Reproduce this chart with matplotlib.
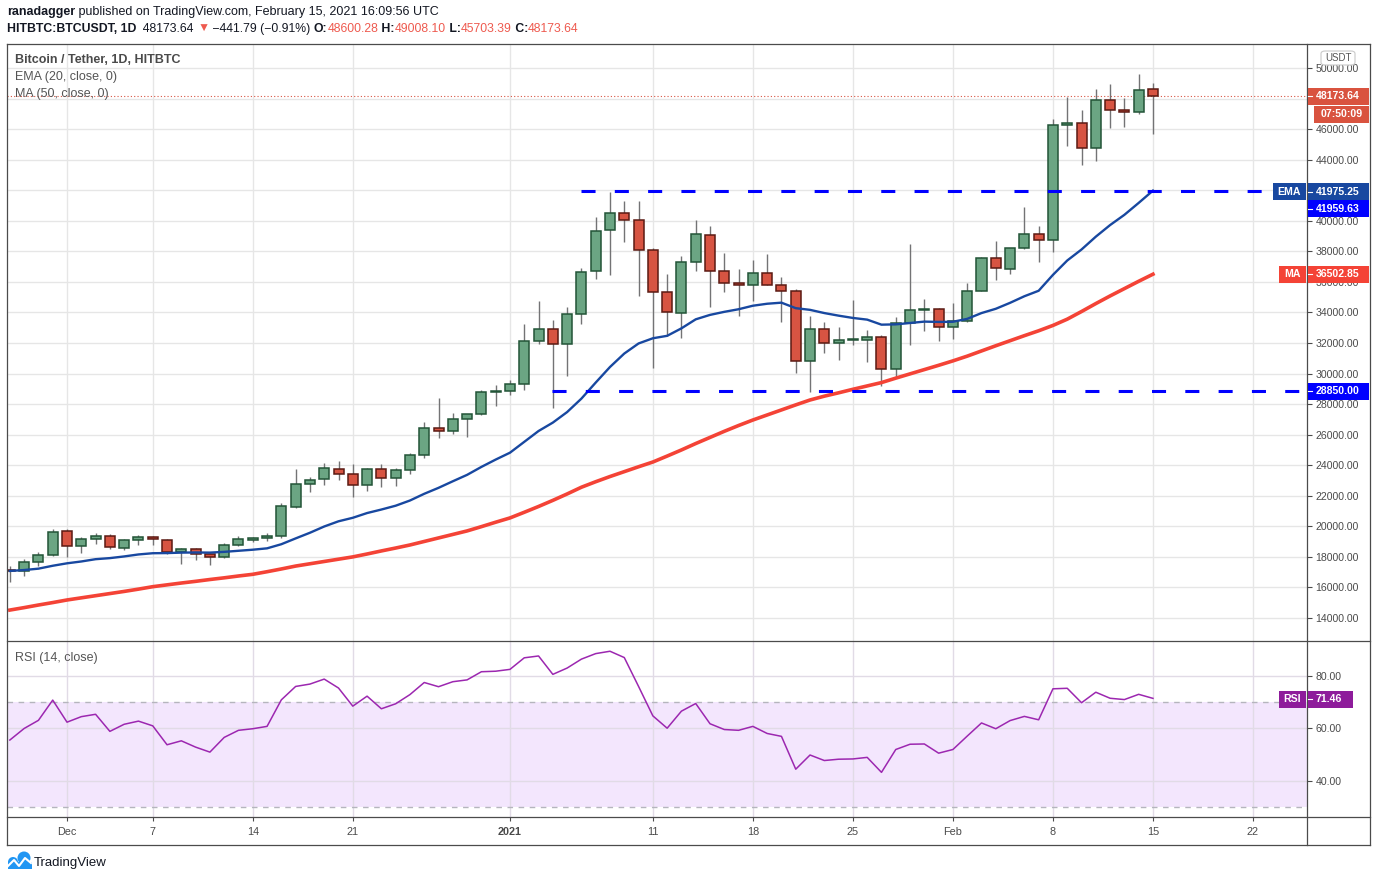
import matplotlib
matplotlib.use("Agg")
import matplotlib.pyplot as plt
import numpy as np
from matplotlib.patches import Rectangle, FancyBboxPatch, Circle
from matplotlib.lines import Line2D
from matplotlib.transforms import IdentityTransform

plt.rcParams["font.family"] = ["Liberation Sans", "DejaVu Sans"]

# daily candles, Nov 27 2020 .. Feb 15 2021
open_ = [17160, 17100, 17650, 18100, 19680, 18700, 19150, 19350, 18580, 19090,
         19290, 19090, 18300, 18500, 18170, 17980, 18760, 19090, 19220, 19350,
         21250, 22760, 23080, 23740, 23410, 22690, 23740, 23150, 23670, 24650,
         26420, 26230, 27010, 27340, 28790, 28850, 29300, 32120, 32910, 31930,
         33890, 36710, 39380, 40500, 40040, 38080, 35330, 33960, 37300, 39080,
         36710, 35920, 35790, 36580, 35790, 35400, 30810, 32910, 31990, 32190,
         32190, 32390, 30290, 33310, 34180, 34220, 33040, 33430, 35400, 37570,
         36840, 38210, 39140, 38740, 46270, 46400, 44760, 47900, 47250, 47120,
         48600.28]
high = [17400, 17860, 18300, 19830, 19830, 19290, 19550, 19480, 19170, 19420,
        19350, 19190, 18600, 18600, 18250, 18890, 19350, 19280, 19550, 21530,
        23740, 23230, 24150, 24280, 24090, 23800, 24090, 23800, 24780, 26820,
        28400, 27410, 27360, 28920, 29240, 29570, 33230, 34740, 33500, 34350,
        36900, 40240, 41880, 41290, 41290, 38210, 36510, 37690, 40040, 39660,
        37880, 36840, 37430, 37820, 36310, 35530, 33760, 33360, 33040, 34810,
        32840, 32530, 33690, 38480, 34870, 34260, 34610, 35920, 37620, 38670,
        38240, 40900, 39660, 46660, 48100, 47250, 48640, 48970, 48030, 49610,
        49008.10]
low = [16380, 16770, 17420, 18050, 18010, 18280, 18830, 18500, 18430, 18800,
       18800, 18170, 17560, 17820, 17490, 17950, 18700, 18960, 19050, 19220,
       21180, 22270, 22690, 23020, 21900, 22300, 22560, 22630, 23410, 24460,
       25770, 26030, 25830, 27300, 27860, 28580, 28920, 31930, 27730, 29830,
       33230, 36220, 36440, 38600, 35070, 30360, 32470, 32320, 36710, 34350,
       35330, 33760, 34740, 35790, 33360, 30020, 28790, 31340, 30880, 31860,
       30750, 29180, 29760, 31860, 32790, 32120, 32250, 33360, 35380, 36130,
       36510, 38150, 37300, 37950, 44890, 43640, 43900, 46050, 46110, 47000,
       45703.39]
close = [17100, 17650, 18100, 19610, 18700, 19150, 19350, 18630, 19110, 19280,
         19150, 18300, 18500, 18170, 17980, 18760, 19150, 19220, 19350, 21320,
         22760, 23020, 23800, 23410, 22690, 23740, 23150, 23670, 24650, 26420,
         26230, 27010, 27340, 28790, 28880, 29300, 32120, 32910, 31930, 33900,
         36640, 39340, 40500, 40040, 38080, 35330, 34020, 37300, 39140, 36710,
         35920, 35790, 36580, 35790, 35400, 30810, 32910, 31990, 32190, 32250,
         32390, 30290, 33310, 34150, 34240, 33040, 33430, 35400, 37570, 36920,
         38210, 39140, 38740, 46270, 46400, 44760, 47900, 47250, 47120, 48570,
         48173.64]

ema20 = [17080, 17140, 17230, 17420, 17580, 17700, 17850, 17920, 18030, 18160,
         18240, 18250, 18280, 18290, 18280, 18330, 18400, 18470, 18560, 18830,
         19210, 19580, 19990, 20330, 20560, 20870, 21100, 21350, 21690, 22130,
         22520, 22950, 23370, 23890, 24370, 24820, 25530, 26240, 26790, 27480,
         28360, 29410, 30430, 31310, 31970, 32310, 32470, 32960, 33550, 33840,
         34040, 34210, 34440, 34570, 34640, 34280, 34170, 33960, 33790, 33640,
         33530, 33200, 33220, 33310, 33400, 33380, 33390, 33580, 33960, 34240,
         34630, 35060, 35420, 36460, 37400, 38120, 38960, 39720, 40390, 41170,
         41975.25]
ma50 = [14520, 14680, 14850, 15010, 15180, 15320, 15460, 15600, 15740, 15890,
        16050, 16170, 16290, 16400, 16520, 16630, 16750, 16860, 17030, 17210,
        17400, 17550, 17700, 17850, 18000, 18190, 18390, 18580, 18780, 19010,
        19240, 19470, 19700, 19980, 20270, 20550, 20920, 21300, 21700, 22120,
        22560, 22920, 23260, 23580, 23900, 24210, 24600, 25000, 25420, 25820,
        26220, 26600, 26960, 27290, 27620, 27950, 28270, 28520, 28740, 28970,
        29190, 29410, 29700, 29980, 30260, 30540, 30830, 31140, 31480, 31820,
        32150, 32480, 32800, 33150, 33560, 34060, 34580, 35080, 35560, 36040,
        36502.85]
rsi14 = [55.6, 60.0, 63.1, 70.8, 62.4, 64.5, 65.4, 58.9, 61.6, 62.8,
         61.0, 53.8, 55.3, 52.9, 51.0, 56.6, 59.3, 59.9, 60.8, 70.9,
         76.0, 76.9, 78.8, 75.4, 68.5, 72.3, 67.5, 69.4, 72.9, 77.5,
         75.9, 77.8, 78.5, 81.6, 81.8, 82.5, 86.9, 87.6, 80.6, 83.0,
         86.4, 88.5, 89.4, 87.0, 76.0, 64.8, 60.1, 66.6, 69.5, 61.8,
         59.6, 59.3, 60.8, 58.1, 57.0, 44.5, 49.9, 47.8, 48.3, 48.4,
         49.0, 43.3, 52.0, 54.0, 54.1, 50.6, 52.0, 57.1, 62.1, 59.9,
         63.0, 64.6, 63.3, 75.1, 75.3, 69.8, 73.8, 71.5, 71.0, 73.0,
         71.46]

support = 28850.00
resistance = 41959.63
last_price = 48173.64

tick_pos = [4, 10, 17, 24, 35, 45, 52, 59, 66, 73, 80, 87]
tick_lab = ["Dec", "7", "14", "21", "2021", "11", "18", "25", "Feb", "8", "15", "22"]

W, H = 1376, 881
fig = plt.figure(figsize=(W / 100, H / 100), dpi=100)


def fx(px):
    return px / W


def fy(py):
    return 1 - py / H


ax = fig.add_axes([fx(7), fy(641), fx(1300), 597 / H])
rax = fig.add_axes([fx(7), fy(817), fx(1300), 176 / H], sharex=ax)

o = np.array(open_)
c = np.array(close)
x = np.arange(len(c))
up = c >= o
body_fc = np.where(up, "#6ba583", "#d75442")
body_ec = np.where(up, "#225437", "#5b1a13")

ax.vlines(x, low, high, color="#737375", lw=1, zorder=2)
ax.bar(x, np.maximum(np.abs(c - o), 70), bottom=np.minimum(o, c), width=0.7,
       color=body_fc, edgecolor=body_ec, linewidth=1.1, zorder=3)
ax.plot(x, ema20, color="#1848a0", lw=1.7, zorder=4)
ax.plot(x, ma50, color="#f44336", lw=2.6, zorder=4)

xmax = 90.78
ax.hlines(resistance, 39.95, xmax, colors="#0000ff", lw=2.2,
          linestyles=(0, (4.6, 6.3)), zorder=5)
ax.hlines(support, 37.95, xmax, colors="#0000ff", lw=2.2,
          linestyles=(0, (4.6, 6.3)), zorder=5)
ax.axhline(last_price, color="#d75442", lw=0.8, ls=(0, (1, 2)), zorder=1)

# price scale; the 48000 label sits under the last-price tag
yt = np.arange(14000, 50001, 2000)
ax.set_xlim(-0.2, xmax)
ax.set_ylim(12495, 51571)
ax.set_yticks(yt)
ax.set_yticklabels(["" if v == 48000 else f"{v:.2f}" for v in yt])
ax.set_xticks(tick_pos)
ax.yaxis.tick_right()
ax.grid(True, color="#e6e6e6", lw=1)
ax.set_axisbelow(True)
ax.tick_params(axis="x", length=0, labelbottom=False)
ax.tick_params(axis="y", length=3.5, color="#4b4b4b", labelsize=7.6,
               labelcolor="#4a4a4a", pad=2.5)

# RSI panel
rax.axhspan(30, 70, color="#f3e6fd", zorder=0.3, lw=0)
rax.axhline(70, color="#b5b5bd", lw=1, ls=(0, (4, 4)), zorder=1)
rax.axhline(30, color="#b5b5bd", lw=1, ls=(0, (4, 4)), zorder=1)
rax.plot(x, rsi14, color="#9c27b0", lw=1.1, zorder=3)
rax.set_ylim(26.3, 93.3)
rax.set_yticks([40, 60, 80])
rax.set_yticklabels(["40.00", "60.00", "80.00"])
rax.yaxis.tick_right()
rax.grid(True, color="#e1dbe6", lw=1)
rax.set_axisbelow(True)
rax.set_xticks(tick_pos)
rax.set_xticklabels(tick_lab)
rax.tick_params(axis="y", length=3.5, color="#4b4b4b", labelsize=7.6,
                labelcolor="#4a4a4a", pad=2.5)
rax.tick_params(axis="x", length=3, color="#4b4b4b", labelsize=7.8,
                labelcolor="#4a4a4a", pad=4.5)
for lab in rax.get_xticklabels():
    if lab.get_text() == "2021":
        lab.set_fontweight("bold")

for a in (ax, rax):
    for s in a.spines.values():
        s.set_visible(False)

# frame
frame_col = "#4b4b4b"
for yy in (44, 641, 817, 845):
    fig.add_artist(Line2D([fx(7), fx(1370)], [fy(yy), fy(yy)], color=frame_col, lw=0.9))
for xx in (7, 1307, 1370):
    fig.add_artist(Line2D([fx(xx), fx(xx)], [fy(44), fy(845)], color=frame_col, lw=0.9))


def to_px(axis, val):
    return H - axis.transData.transform((0, val))[1]


def box(yc, x0, x1, txt, fc, ha="left", h=17):
    fig.add_artist(Rectangle((fx(x0), fy(yc + h / 2)), fx(x1 - x0), h / H,
                             transform=fig.transFigure, facecolor=fc,
                             edgecolor="none", zorder=5))
    if ha == "left":
        fig.add_artist(Line2D([fx(x0), fx(x0 + 4)], [fy(yc), fy(yc)],
                              color="white", lw=0.8, zorder=6))
        tx = x0 + 8
    else:
        tx = (x0 + x1) / 2
    fig.text(fx(tx), fy(yc), txt, color="white", fontsize=7.6, fontweight="bold",
             ha=ha, va="center", zorder=7)


yp = to_px(ax, last_price)
box(yp + 0.5, 1308, 1369, "48173.64", "#d9533f")
box(yp + 18.5, 1314, 1369, "07:50:09", "#d9533f", ha="center")
ye = to_px(ax, ema20[-1])
box(ye + 1, 1273, 1306, "EMA", "#1848a0", ha="center")
box(ye + 1, 1308, 1369, f"{ema20[-1]:.2f}", "#1848a0")
box(ye + 18, 1308, 1369, f"{resistance:.2f}", "#0000ff")
ym = to_px(ax, ma50[-1])
box(ym, 1279, 1306, "MA", "#f44336", ha="center")
box(ym, 1308, 1369, f"{ma50[-1]:.2f}", "#f44336")
box(to_px(ax, support), 1308, 1369, f"{support:.2f}", "#0000ff")
yr = to_px(rax, rsi14[-1])
box(yr + 1, 1279, 1306, "RSI", "#8e1c9b", ha="center")
box(yr + 1, 1308, 1353, f"{rsi14[-1]:.2f}", "#8e1c9b")

fig.add_artist(FancyBboxPatch((fx(1321), fy(65)), fx(34), 14 / H,
                              boxstyle="round,pad=0,rounding_size=0.003",
                              transform=fig.transFigure, facecolor="white",
                              edgecolor="#c9c9c9", lw=0.8, zorder=5))
fig.text(fx(1338), fy(58), "USDT", fontsize=7, color="#555555", ha="center",
         va="center", zorder=6)

# legends in panes
fig.text(fx(15), fy(60), "Bitcoin / Tether, 1D, HITBTC", fontsize=9, color="#4a4a4a",
         fontweight="bold", va="center")
fig.text(fx(15), fy(77), "EMA (20, close, 0)", fontsize=9, color="#555555", va="center")
fig.text(fx(15), fy(94), "MA (50, close, 0)", fontsize=9, color="#555555", va="center")
fig.text(fx(15), fy(658), "RSI (14, close)", fontsize=9, color="#555555", va="center")

# header
renderer = fig.canvas.get_renderer()


def run(x0, yc, pieces, size=9):
    cx = x0
    for txt, col, wt in pieces:
        t = fig.text(fx(cx), fy(yc), txt, color=col, fontweight=wt, fontsize=size,
                     va="center", ha="left")
        cx = t.get_window_extent(renderer).x1


dark = "#131722"
red = "#ee5a4f"
run(7, 12, [("ranadagger", dark, "bold"),
            (" published on TradingView.com, February 15, 2021 16:09:56 UTC", dark, "normal")])
run(7, 29, [("HITBTC:BTCUSDT, 1D", dark, "bold"), ("  48173.64 ", dark, "normal"),
            ("▼", red, "normal"), (" \u2212441.79 (\u22120.91%) ", dark, "normal"),
            ("O:", dark, "bold"), ("48600.28", red, "normal"),
            (" H:", dark, "bold"), ("49008.10", red, "normal"),
            (" L:", dark, "bold"), ("45703.39", red, "normal"),
            (" C:", dark, "bold"), ("48173.64", red, "normal")], size=8.85)

# TradingView logo
blue = "#2196f3"
for cxy, r in (((24, 858), 6.5), ((13, 862), 5.0)):
    fig.add_artist(Circle((cxy[0], H - cxy[1]), r, transform=IdentityTransform(),
                          facecolor=blue, edgecolor="none"))
fig.add_artist(Rectangle((8, H - 869), 24, 7, transform=IdentityTransform(),
                         facecolor=blue, edgecolor="none"))
fig.add_artist(Line2D([8, 14, 19, 25, 31], [H - 866, H - 860, H - 866, H - 858, H - 863],
                      transform=IdentityTransform(), color="white", lw=1.5))
fig.text(fx(34), fy(863), "TradingView", fontsize=9.5, color=dark, va="center")

fig.savefig("out.png", dpi=100)
